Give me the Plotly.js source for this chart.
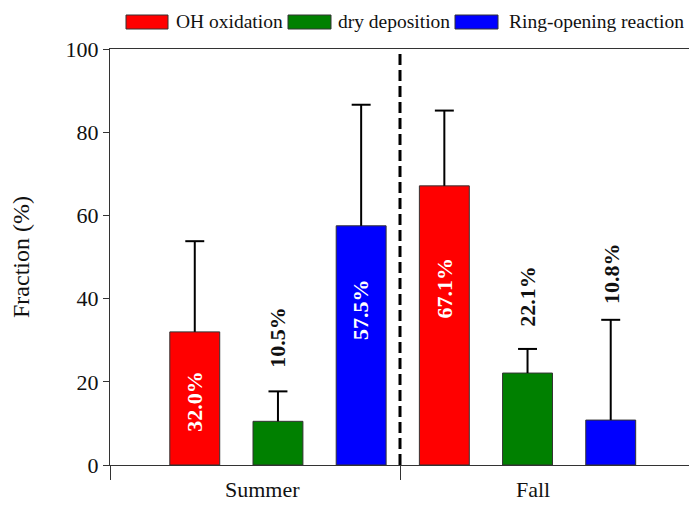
<!DOCTYPE html>
<html>
<head>
<meta charset="utf-8">
<script src="https://cdn.plot.ly/plotly-3.0.1.min.js"></script>
<style>html,body{margin:0;padding:0;background:#fff;}#chart{width:689px;height:506px;}</style>
</head>
<body>
<div id="chart"></div>
<script>
// ---- data ----
var categories = ['Summer', 'Fall'];
var seriesNames = ['OH oxidation', 'dry deposition', 'Ring-opening reaction'];
var ohValues = [32.0, 67.1];
var dryValues = [10.5, 22.1];
var ringValues = [57.5, 10.8];
var ohErr = [21.8, 18.1];
var dryErr = [7.2, 5.8];
var ringErr = [29.1, 24.1];
var yTicks = [0, 20, 40, 60, 80, 100];

// ---- layout helpers ----
var FONT = 'Liberation Serif';
var L = 110, R = 689, T = 49, B = 465;
function xp(px) { return (px - L) / (R - L); }
function yp(py) { return (B - py) / (B - T); }

var colors = ['#ff0000', '#008000', '#0000ff'];
var values = [ohValues, dryValues, ringValues];
var errs = [ohErr, dryErr, ringErr];
var xIdx = categories.map(function (c, i) { return i; });
var slot = 1 / 3;

var traces = values.map(function (v, k) {
  return {
    type: 'bar',
    name: seriesNames[k],
    x: xIdx,
    y: v,
    marker: { color: colors[k], line: { color: '#333', width: 1 } },
    error_y: { type: 'data', symmetric: false, array: errs[k], arrayminus: v.map(function () { return 0; }),
      color: '#000', thickness: 2, width: 0 },
    showlegend: false,
    hoverinfo: 'y'
  };
});
// error-bar caps (only at the top end)
values.forEach(function (v, k) {
  traces.push({
    type: 'scatter', mode: 'markers',
    x: xIdx.map(function (i) { return i + (k - 1) * slot; }),
    y: v.map(function (val, i) { return val + errs[k][i]; }),
    marker: { size: 1, opacity: 0 },
    error_x: { type: 'constant', value: 0.038, color: '#000', thickness: 2, width: 0 },
    showlegend: false, hoverinfo: 'skip'
  });
});

// label positions (y in data units) for the percentage labels
var labelY = [[15.4, 42.5], [30.8, 40.6], [37.3, 46.1]];
var labelInside = [[true, true], [false, false], [true, false]];
var annotations = [];
values.forEach(function (v, k) {
  v.forEach(function (val, i) {
    annotations.push({
      x: i + (k - 1) * slot, y: labelY[k][i], xref: 'x', yref: 'y',
      text: '<b>' + val.toFixed(1) + '%</b>', showarrow: false, textangle: -90,
      font: { family: FONT, size: 22, color: labelInside[k][i] ? '#ffffff' : '#111111' }
    });
  });
});
// category labels
var catX = [-0.06, 1.02];
categories.forEach(function (c, i) {
  annotations.push({ x: catX[i], y: yp(490), xref: 'x', yref: 'paper', yanchor: 'middle', text: c, showarrow: false,
    font: { family: FONT, size: 22, color: '#111' } });
});

// legend (drawn manually for wide swatches)
var shapes = [];
var legBoxes = [[126, 168], [288, 331], [455, 498]];
var legTextX = [174, 336, 507];
seriesNames.forEach(function (n, k) {
  shapes.push({ type: 'rect', xref: 'paper', yref: 'paper', x0: xp(legBoxes[k][0]), x1: xp(legBoxes[k][1]),
    y0: yp(29), y1: yp(15), fillcolor: colors[k], line: { color: '#333', width: 1 } });
  annotations.push({ x: xp(legTextX[k]), y: yp(21), xref: 'paper', yref: 'paper', xanchor: 'left', yanchor: 'middle',
    text: n, showarrow: false, font: { family: FONT, size: 19.5, color: '#111' } });
});
// dashed separator
var divX = 0.489;
shapes.push({ type: 'line', xref: 'x', yref: 'paper', x0: divX, x1: divX, y0: 0, y1: 1,
  line: { color: '#000', width: 3, dash: '11px,5px' } });

var layout = {
  width: 689, height: 506,
  margin: { l: L, r: 0, t: T, b: 506 - B, pad: 0 },
  paper_bgcolor: '#fff', plot_bgcolor: '#fff',
  barmode: 'group', bargap: 0, bargroupgap: 0.4,
  font: { family: FONT, color: '#111' },
  xaxis: {
    range: [-0.673, 1.647], showgrid: false, zeroline: false, showline: true, linecolor: '#333', linewidth: 1,
    mirror: true, tickvals: [-0.673, divX], ticks: 'outside', ticklen: 14, tickcolor: '#333', showticklabels: false
  },
  yaxis: {
    range: [0, 100], tickvals: yTicks, ticks: 'outside', ticklen: 6, tickcolor: '#333', showgrid: false,
    zeroline: false, showline: true, linecolor: '#333', linewidth: 1,
    tickfont: { family: FONT, size: 22, color: '#111' },
    title: { text: 'Fraction (%)', font: { family: FONT, size: 24, color: '#111' }, standoff: 29 }
  },
  annotations: annotations,
  shapes: shapes
};

Plotly.newPlot('chart', traces, layout, { staticPlot: true });
</script>
</body>
</html>
